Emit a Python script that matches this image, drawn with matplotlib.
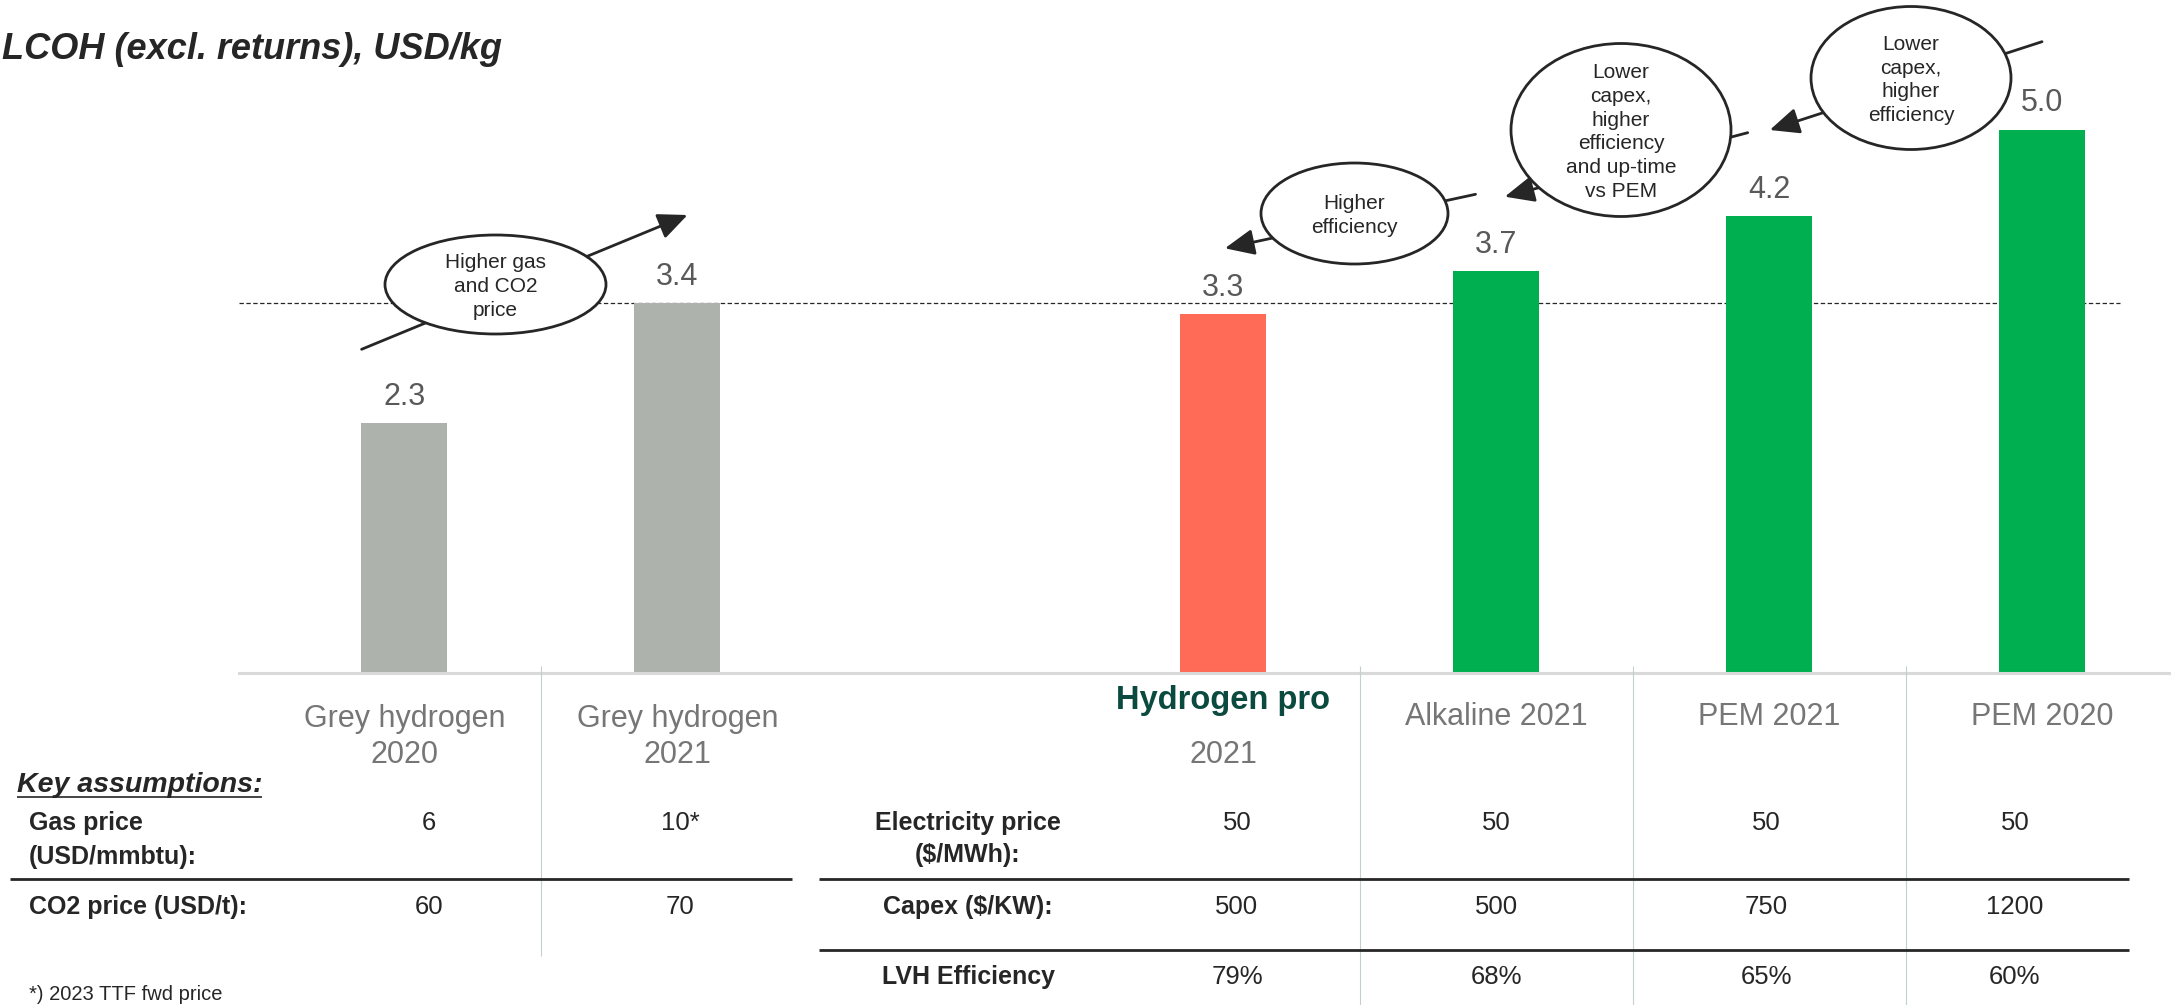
import matplotlib.pyplot as plt
from matplotlib.patches import Ellipse

plt.rcParams['font.family'] = ['Liberation Sans', 'DejaVu Sans']

W, H = 2171, 1005

# chart data
categories = ["Grey hydrogen\n2020", "Grey hydrogen\n2021", "Hydrogen pro\n2021",
              "Alkaline 2021", "PEM 2021", "PEM 2020"]
lcoh = [2.3, 3.4, 3.3, 3.7, 4.2, 5.0]
positions = [0, 1, 3, 4, 5, 6]
bar_colors = ["#AEB2AC", "#AEB2AC", "#FF6B57", "#00B050", "#00B050", "#00B050"]

# key assumptions, grey hydrogen
grey_rows = ["Gas price\n(USD/mmbtu):", "CO2 price (USD/t):"]
gas_price = ["6", "10*"]
co2_price = ["60", "70"]

# key assumptions, electrolysis
elec_rows = ["Electricity price\n($/MWh):", "Capex ($/KW):", "LVH Efficiency"]
electricity_price = ["50", "50", "50", "50"]
capex = ["500", "500", "750", "1200"]
lvh_efficiency = ["79%", "68%", "65%", "60%"]

callouts = ["Higher gas\nand CO2\nprice", "Higher\nefficiency",
            "Lower\ncapex,\nhigher\nefficiency\nand up-time\nvs PEM",
            "Lower\ncapex,\nhigher\nefficiency"]

DARK = "#262626"

# layout in pixels
X0, DX = 404.3, 273.0       # px of position 0, px per category step
BASE, UNIT = 673.0, 108.7   # px of baseline, px per USD/kg


def px(pos):
    return X0 + DX * pos


fig = plt.figure(figsize=(W / 100, H / 100), dpi=100)
ax = fig.add_axes([239 / W, 1 - BASE / H, 1 - 239 / W, 6 * UNIT / H])
ax.set_xlim((239 - X0) / DX, (W - X0) / DX)
ax.set_ylim(0, 6)

ax.bar(positions, lcoh, width=0.315, color=bar_colors, zorder=2)
for p, v in zip(positions, lcoh):
    ax.annotate(f"{v:.1f}", (p, v), xytext=(0, 8), textcoords="offset points",
                ha="center", va="bottom", fontsize=22, color="#595959")

# reference line at grey hydrogen 2021 level
ax.hlines(lcoh[1], (239 - X0) / DX, 6.285, colors=DARK, linestyles=(0, (3.5, 2)),
          lw=0.9, zorder=1)

for s in ["top", "right", "left"]:
    ax.spines[s].set_visible(False)
ax.spines["bottom"].set_color("#D9D9D9")
ax.spines["bottom"].set_linewidth(2.2)
ax.set_xticks([])
ax.set_yticks([])
ax.patch.set_alpha(0)

# overlay in pixel coords for title, table and callouts
ov = fig.add_axes([0, 0, 1, 1])
ov.set_xlim(0, W)
ov.set_ylim(H, 0)
ov.axis("off")
ov.patch.set_alpha(0)

ov.text(2, 49, "LCOH (excl. returns), USD/kg", fontsize=26, fontweight="bold",
        fontstyle="italic", ha="left", va="center", color=DARK)

# category headers
for cat, p in zip(categories, positions):
    lines = cat.split("\n")
    x = px(p)
    if lines[0] == "Hydrogen pro":
        ov.text(x, 700, lines[0], fontsize=23.5, fontweight="bold", color="#0B4A3F",
                ha="center", va="center")
        ov.text(x, 755, lines[1], fontsize=22, color="#767676", ha="center", va="center")
    elif len(lines) == 2:
        ov.text(x, 719, lines[0], fontsize=22, color="#767676", ha="center", va="center")
        ov.text(x, 755, lines[1], fontsize=22, color="#767676", ha="center", va="center")
    else:
        ov.text(x, 717, cat, fontsize=22, color="#767676", ha="center", va="center")

# separators
ov.vlines(px(0.5), 666, 956, colors="#C5CED3", lw=0.8)
for m in [3.5, 4.5, 5.5]:
    ov.vlines(px(m), 666, H, colors="#C5CED3", lw=0.8)
ov.hlines(879, 10, 792, colors=DARK, lw=2)
ov.hlines([879, 950], 819, 2129, colors=DARK, lw=2)

# left table
ov.text(17, 785, "Key assumptions:", fontsize=20.5, fontweight="bold", fontstyle="italic",
        ha="left", va="center", color=DARK)
ov.hlines(797, 17, 262, colors=DARK, lw=1.2)
gl = grey_rows[0].split("\n")
ov.text(29, 823, gl[0], fontsize=18, fontweight="bold", ha="left", va="center", color=DARK)
ov.text(29, 857, gl[1], fontsize=18, fontweight="bold", ha="left", va="center", color=DARK)
ov.text(29, 907, grey_rows[1], fontsize=18, fontweight="bold", ha="left", va="center", color=DARK)
left_val_x = [0.09, 1.01]
for i, x in enumerate(left_val_x):
    ov.text(px(x), 823, gas_price[i], fontsize=18.5, ha="center", va="center", color=DARK)
    ov.text(px(x), 907, co2_price[i], fontsize=18.5, ha="center", va="center", color=DARK)
ov.text(29, 1004, "*) 2023 TTF fwd price", fontsize=14.5, ha="left", va="bottom", color=DARK)

# right table
el = elec_rows[0].split("\n")
ov.text(968, 823, el[0], fontsize=18, fontweight="bold", ha="center", va="center", color=DARK)
ov.text(968, 855, el[1], fontsize=18, fontweight="bold", ha="center", va="center", color=DARK)
ov.text(968, 907, elec_rows[1], fontsize=18, fontweight="bold", ha="center", va="center", color=DARK)
ov.text(968, 977, elec_rows[2], fontsize=18, fontweight="bold", ha="center", va="center", color=DARK)
right_val_x = [3.05, 4.0, 4.99, 5.9]
for i, x in enumerate(right_val_x):
    ov.text(px(x), 823, electricity_price[i], fontsize=18.5, ha="center", va="center", color=DARK)
    ov.text(px(x), 907, capex[i], fontsize=18.5, ha="center", va="center", color=DARK)
    ov.text(px(x), 977, lvh_efficiency[i], fontsize=18.5, ha="center", va="center", color=DARK)

# callout bubbles with arrows
bubble_xy = [(495.5, 284.5), (1354.5, 213.5), (1621, 130), (1911, 78)]
bubble_wh = [(221, 99), (187, 101), (220, 173), (200, 143)]
arrow_from = [(361.6, 349.3), (1475.5, 194.3), (1747.7, 132.7), (2042, 41.7)]
arrow_to = [(687.5, 215), (1224.9, 248.3), (1504.8, 196.7), (1769.8, 130)]
for txt, c, wh, a0, a1 in zip(callouts, bubble_xy, bubble_wh, arrow_from, arrow_to):
    ov.annotate("", xy=a1, xytext=a0,
                arrowprops=dict(arrowstyle="-|>,head_length=0.9,head_width=0.4",
                                lw=2, color=DARK, shrinkA=0, shrinkB=0,
                                mutation_scale=20), zorder=3)
    ov.add_patch(Ellipse(c, wh[0], wh[1], facecolor="white", edgecolor=DARK,
                         lw=2, zorder=5))
    ov.text(c[0], c[1] + 2, txt, fontsize=15, ha="center", va="center",
            linespacing=1.32, color=DARK, zorder=6)

fig.savefig("out.png", dpi=100)
